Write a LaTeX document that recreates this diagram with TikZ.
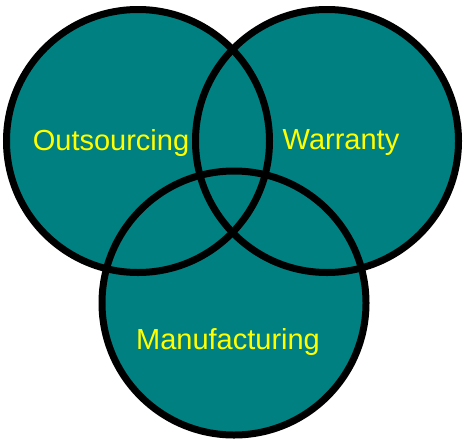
\documentclass[tikz,border=0pt]{standalone}
\usepackage{fontspec}
\setmainfont{Liberation Sans}
\definecolor{vteal}{HTML}{008080}
\definecolor{vyellow}{HTML}{FFFF00}
\begin{document}
\begin{tikzpicture}[x=1pt,y=-1pt,
  setfill/.style={fill=vteal},
  setring/.style={draw=black,line width=7pt},
  setlabel/.style={text=vyellow,font=\fontsize{29}{29}\selectfont,anchor=base,inner sep=0pt}]
\useasboundingbox (0,0) rectangle (465,442);
% circle centres
\coordinate (cO) at (138,141);
\coordinate (cW) at (327,141);
\coordinate (cM) at (234,303);
% fills first, rings on top so every outline shows
\fill[setfill] (cO) circle[radius=131.5];
\fill[setfill] (cW) circle[radius=131.5];
\fill[setfill] (cM) circle[radius=132];
\draw[setring] (cO) circle[radius=131.5];
\draw[setring] (cW) circle[radius=131.5];
\draw[setring] (cM) circle[radius=132];
\node[setlabel] (lO) at (111,150) {Outsourcing};
\node[setlabel] (lW) at (341,149) {Warranty};
\node[setlabel] (lM) at (228,349) {Manufacturing};
\end{tikzpicture}
\end{document}
